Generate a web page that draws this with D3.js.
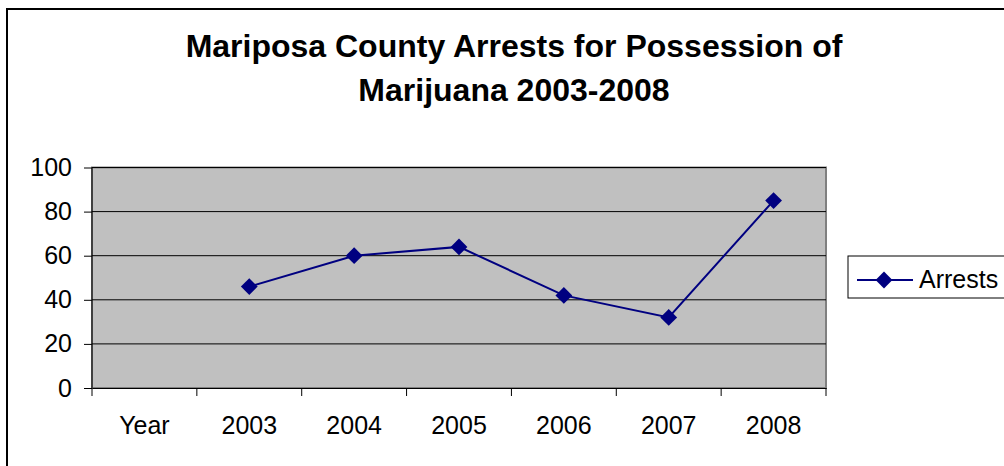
<!DOCTYPE html>
<html>
<head>
<meta charset="utf-8">
<script src="https://cdn.jsdelivr.net/npm/d3@7"></script>
<style>
body { margin: 0; background: #fff; }
svg { display: block; font-family: "Liberation Sans", Arial, sans-serif; }
</style>
</head>
<body>
<script>
var categories = ['Year', '2003', '2004', '2005', '2006', '2007', '2008'];
var arrests = [null, 46, 60, 64, 42, 32, 85];
var yTicks = [0, 20, 40, 60, 80, 100];
var titleLines = ['Mariposa County Arrests for Possession of', 'Marijuana 2003-2008'];
var seriesName = 'Arrests';

var width = 1004, height = 466;
var plot = {left: 92, top: 167.5, right: 826, bottom: 388};

var svg = d3.select('body').append('svg')
	.attr('width', width)
	.attr('height', height);

// chart frame
svg.append('rect')
	.attr('x', 7).attr('y', 9)
	.attr('width', 1100).attr('height', 600)
	.attr('fill', '#fff')
	.attr('stroke', '#000')
	.attr('stroke-width', 2);

svg.append('g')
	.selectAll('text')
	.data(titleLines)
	.join('text')
	.attr('x', 514)
	.attr('y', function(d, i) { return 57 + i*44; })
	.attr('text-anchor', 'middle')
	.attr('font-size', 32)
	.attr('font-weight', 'bold')
	.text(function(d) { return d; });

var x = d3.scaleBand()
	.domain(categories)
	.range([plot.left, plot.right]);

var y = d3.scaleLinear()
	.domain([0, 100])
	.range([plot.bottom, plot.top]);

// plot area
svg.append('rect')
	.attr('x', plot.left).attr('y', plot.top)
	.attr('width', plot.right - plot.left)
	.attr('height', plot.bottom - plot.top)
	.attr('fill', '#c0c0c0')
	.attr('stroke', '#808080')
	.attr('stroke-width', 2);

svg.append('g')
	.selectAll('line')
	.data(yTicks.filter(function(d) { return d > 0; }))
	.join('line')
	.attr('x1', plot.left).attr('x2', plot.right)
	.attr('y1', function(d) { return y(d); })
	.attr('y2', function(d) { return y(d); })
	.attr('stroke', '#000')
	.attr('stroke-width', 1);

var yAxis = svg.append('g')
	.attr('transform', 'translate(' + plot.left + ',0)')
	.call(d3.axisLeft(y).tickValues(yTicks).tickSize(8).tickPadding(12));
yAxis.selectAll('text').attr('font-size', 25).attr('font-family', null).attr('fill', '#000');
yAxis.selectAll('line, path').attr('stroke', '#000');
yAxis.select('.domain').attr('d', 'M0,' + plot.top + 'V' + plot.bottom);

var xAxis = svg.append('g')
	.attr('transform', 'translate(0,' + plot.bottom + ')')
	.call(d3.axisBottom(x).tickSizeInner(0).tickSizeOuter(0).tickPadding(28));
xAxis.selectAll('text').attr('font-size', 25).attr('font-family', null).attr('fill', '#000');
xAxis.select('.domain').attr('stroke', '#000');

// category boundary ticks
svg.append('g')
	.selectAll('line')
	.data(categories.map(function(c) { return x(c); }).concat([plot.right]))
	.join('line')
	.attr('x1', function(d) { return d; })
	.attr('x2', function(d) { return d; })
	.attr('y1', plot.bottom)
	.attr('y2', plot.bottom + 8)
	.attr('stroke', '#000');

var points = categories.map(function(c, i) { return {cat: c, value: arrests[i]}; })
	.filter(function(d) { return d.value != null; });

var line = d3.line()
	.x(function(d) { return x(d.cat) + x.bandwidth()/2; })
	.y(function(d) { return y(d.value); });

svg.append('path')
	.datum(points)
	.attr('d', line)
	.attr('fill', 'none')
	.attr('stroke', '#000080')
	.attr('stroke-width', 2);

var diamond = d3.symbol().type(d3.symbolDiamond2).size(180);

svg.append('g')
	.selectAll('path')
	.data(points)
	.join('path')
	.attr('d', diamond)
	.attr('transform', function(d) {
		return 'translate(' + (x(d.cat) + x.bandwidth()/2) + ',' + y(d.value) + ')';
	})
	.attr('fill', '#000080');

// legend
var legend = svg.append('g').attr('transform', 'translate(848,256)');
legend.append('rect')
	.attr('x', 0).attr('y', 0)
	.attr('width', 170).attr('height', 42)
	.attr('fill', '#fff')
	.attr('stroke', '#000')
	.attr('stroke-width', 1);
legend.append('line')
	.attr('x1', 9).attr('x2', 65)
	.attr('y1', 24).attr('y2', 24)
	.attr('stroke', '#000080')
	.attr('stroke-width', 2);
legend.append('path')
	.attr('d', diamond)
	.attr('transform', 'translate(36,24)')
	.attr('fill', '#000080');
legend.append('text')
	.attr('x', 71).attr('y', 32)
	.attr('font-size', 25)
	.text(seriesName);
</script>
</body>
</html>
